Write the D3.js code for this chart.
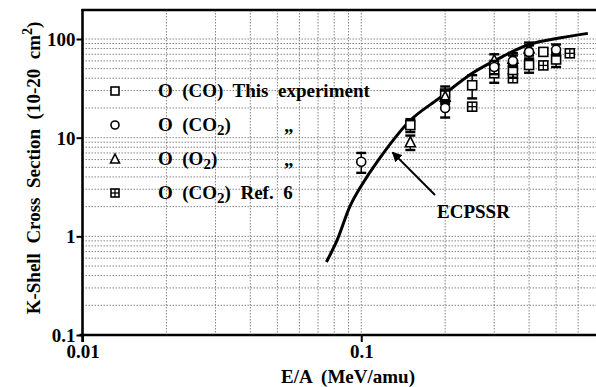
<!DOCTYPE html>
<html><head><meta charset="utf-8">
<script src="https://cdn.jsdelivr.net/npm/d3@7/dist/d3.min.js"></script>
<style>html,body{margin:0;padding:0;background:#fff;}svg{display:block;}
svg text{font-family:"Liberation Serif","DejaVu Serif","Times New Roman",serif !important;font-weight:bold;}</style>
</head><body>
<svg id="c" width="596" height="387"></svg>
<script>
// ---- data ----
const xTickLabels = ["0.01", "0.1"];
const xTickValues = [0.01, 0.1];
const yTickValues = [0.1, 1, 10, 100];
const yTickLabels = ["0.1", "1", "10", "100"];

// O (CO) this experiment  (squares)
const coE   = [0.15, 0.2, 0.25, 0.3, 0.35, 0.4, 0.45, 0.5];
const coVal = [13.4, 28, 34, 45, 48.5, 54.5, 74, 62];
const coErr = [2, 5, 9, 9, 8, 9, 0, 10];
// O (CO2) (circles)
const co2E   = [0.1, 0.2, 0.3, 0.35, 0.4, 0.5];
const co2Val = [5.7, 20, 52, 60, 74, 78];
const co2Err = [1.3, 4, 8, 8, 12, 10];
// O (O2) (triangles)
const o2E   = [0.15, 0.2, 0.3, 0.35, 0.4];
const o2Val = [9, 26, 61, 63, 80];
const o2Err = [1.5, 4, 9, 9, 12];
// O (CO2) Ref. 6 (boxed plus)
const refE   = [0.25, 0.35, 0.45, 0.56];
const refVal = [20.6, 40, 54, 71.6];
// ECPSSR theory curve
const ecpE   = [0.075, 0.082, 0.091, 0.099, 0.115, 0.15, 0.19, 0.25, 0.32, 0.40, 0.52, 0.65];
const ecpVal = [0.55, 0.92, 2.0, 3.1, 5.9, 15, 25, 45, 66, 88, 103, 114];

const legendRows = [
  {sym: "square", parts: [["O  (CO)  This  experiment", false]]},
  {sym: "circle", parts: [["O  (CO", false], ["2", true], [")", false]], ditto: true},
  {sym: "triangle", parts: [["O  (O", false], ["2", true], [")", false]], ditto: true},
  {sym: "boxplus", parts: [["O  (CO", false], ["2", true], [")  Ref.  6", false]]}
];

// ---- layout ----
const svg = d3.select("#c");
const FONT = "Liberation Serif";
const FS = 19;
const x = d3.scaleLog().domain([0.01, 1]).range([82.5, 640]);
const y = d3.scaleLog().domain([0.1, 100]).range([335, 39]);
const xL = 82.5, yB = 335, yT = 10, xR = 596;

// grid
const gx = [];
[0.01, 0.1].forEach(d => { for (let k = 2; k <= 10; k++) gx.push(d * k); });
const gy = [];
[0.1, 1, 10].forEach(d => { for (let k = 2; k <= 10; k++) gy.push(d * k); });
const grid = svg.append("g").attr("stroke", "#666").attr("stroke-width", 0.8).attr("stroke-dasharray", "1.5,1.5");
grid.selectAll("line.v").data(gx.filter(v => x(v) < xR)).enter().append("line")
  .attr("x1", d => x(d)).attr("x2", d => x(d)).attr("y1", yT).attr("y2", yB);
grid.selectAll("line.h").data(gy).enter().append("line")
  .attr("x1", xL).attr("x2", xR).attr("y1", d => y(d)).attr("y2", d => y(d));

// axes
const ax = svg.append("g").attr("stroke", "#000").attr("stroke-width", 2.6);
ax.append("line").attr("x1", xL).attr("x2", xL).attr("y1", yT - 1).attr("y2", yB + 7);
ax.append("line").attr("x1", xL - 3).attr("x2", xR).attr("y1", yB).attr("y2", yB);
ax.append("line").attr("x1", xL - 1).attr("x2", xR).attr("y1", yT).attr("y2", yT);

const yAxis = d3.axisLeft(y).tickValues(yTickValues).tickFormat((d, i) => yTickLabels[i]).tickSize(6).tickPadding(1);
const gY = svg.append("g").attr("transform", `translate(${xL},0)`).call(yAxis);
gY.select(".domain").remove();
gY.selectAll(".tick line").attr("stroke-width", 2);
gY.selectAll(".tick text").attr("font-family", FONT).attr("font-weight", "bold").attr("font-size", FS).attr("fill", "#000").attr("dy", "0.35em");

const xAxis = d3.axisBottom(x).tickValues(xTickValues).tickFormat((d, i) => xTickLabels[i]).tickSize(7).tickPadding(3);
const gX = svg.append("g").attr("transform", `translate(0,${yB})`).call(xAxis);
gX.select(".domain").remove();
gX.selectAll(".tick line").attr("stroke-width", 2);
gX.selectAll(".tick text").attr("font-family", FONT).attr("font-weight", "bold").attr("font-size", FS).attr("fill", "#000");

// axis titles
svg.append("text").attr("x", 348).attr("y", 383).attr("text-anchor", "middle")
  .attr("font-family", FONT).attr("font-weight", "bold").attr("font-size", FS)
  .style("white-space", "pre").text("E/A  (MeV/amu)");
const yt = svg.append("text").attr("transform", "translate(40,168) rotate(-90)").attr("text-anchor", "middle")
  .attr("font-family", FONT).attr("font-weight", "bold").attr("font-size", FS).style("white-space", "pre");
yt.append("tspan").text("K-Shell  Cross  Section  (10-20  cm");
yt.append("tspan").attr("dy", -8).attr("font-size", 14).text("2");
yt.append("tspan").attr("dy", 8).text(")");

// ECPSSR curve
const line = d3.line().x(d => x(d[0])).y(d => y(d[1])).curve(d3.curveCatmullRom.alpha(0.5));
svg.append("path").datum(ecpE.map((e, i) => [e, ecpVal[i]])).attr("d", line)
  .attr("fill", "none").attr("stroke", "#000").attr("stroke-width", 3);

// symbols
function drawSym(g, type, cx, cy, s) {
  const h = s / 2;
  let el;
  if (type === "square" || type === "boxplus") {
    el = g.append("rect").attr("x", cx - h).attr("y", cy - h).attr("width", s).attr("height", s);
  } else if (type === "circle") {
    el = g.append("circle").attr("cx", cx).attr("cy", cy).attr("r", h);
  } else {
    el = g.append("path").attr("d", `M${cx},${cy - h - 1}L${cx + h + 0.5},${cy + h}L${cx - h - 0.5},${cy + h}Z`);
  }
  el.attr("stroke", "#000").attr("stroke-width", 1.6).attr("fill", "#fff");
  if (type === "boxplus") {
    g.append("line").attr("x1", cx).attr("x2", cx).attr("y1", cy - h).attr("y2", cy + h).attr("stroke", "#000").attr("stroke-width", 1.3);
    g.append("line").attr("x1", cx - h).attr("x2", cx + h).attr("y1", cy).attr("y2", cy).attr("stroke", "#000").attr("stroke-width", 1.3);
  }
}
function drawSeries(E, V, Err, type) {
  const g = svg.append("g");
  E.forEach((e, i) => {
    const cx = x(e), cy = y(V[i]);
    if (Err && Err[i] > 0) {
      const y1 = y(V[i] + Err[i]), y2 = y(V[i] - Err[i]);
      g.append("line").attr("x1", cx).attr("x2", cx).attr("y1", y1).attr("y2", y2).attr("stroke", "#000").attr("stroke-width", 1.5);
      [y1, y2].forEach(yy => g.append("line").attr("x1", cx - 5).attr("x2", cx + 5).attr("y1", yy).attr("y2", yy).attr("stroke", "#000").attr("stroke-width", 2.4));
    }
    drawSym(g, type, cx, cy, 9);
  });
}
drawSeries(refE, refVal, null, "boxplus");
drawSeries(coE, coVal, coErr, "square");
drawSeries(o2E, o2Val, o2Err, "triangle");
drawSeries(co2E, co2Val, co2Err, "circle");

// legend
const legY = [91, 125, 159, 193];
legendRows.forEach((r, i) => {
  const g = svg.append("g");
  drawSym(g, r.sym, 115, legY[i], 8);
  const t = g.append("text").attr("x", 158).attr("y", legY[i] + 6)
    .attr("font-family", FONT).attr("font-weight", "bold").attr("font-size", FS).style("white-space", "pre");
  r.parts.forEach((p, j) => {
    if (p[1]) t.append("tspan").attr("dy", 4).attr("font-size", 15).text(p[0]);
    else t.append("tspan").attr("dy", j ? -4 : 0).text(p[0]);
  });
  if (r.ditto) {
    g.append("text").attr("x", 284).attr("y", legY[i] + 7).attr("font-family", FONT)
      .attr("font-weight", "bold").attr("font-size", FS).text("\u201E");
  }
});

// ECPSSR label + arrow
svg.append("text").attr("x", 437).attr("y", 218).attr("font-family", FONT).attr("font-weight", "bold")
  .attr("font-size", FS).text("ECPSSR");
const defs = svg.append("defs");
defs.append("marker").attr("id", "ah").attr("viewBox", "0 0 10 10").attr("refX", 9).attr("refY", 5)
  .attr("markerWidth", 5).attr("markerHeight", 5).attr("orient", "auto")
  .append("path").attr("d", "M0,0L10,5L0,10Z").attr("fill", "#000");
svg.append("line").attr("x1", 435).attr("y1", 195).attr("x2", x(0.1295)).attr("y2", y(7.1))
  .attr("stroke", "#000").attr("stroke-width", 2).attr("marker-end", "url(#ah)");
</script>
</body></html>
